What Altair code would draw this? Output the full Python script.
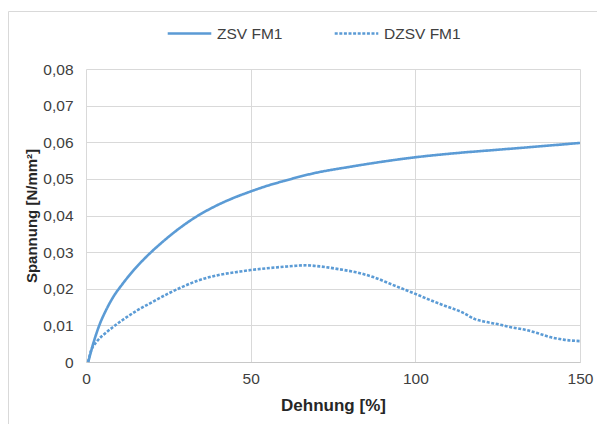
import altair as alt
import pandas as pd

# --- data ---
series_names = ["ZSV FM1", "DZSV FM1"]

zsv_x = [0.7, 1.9, 4.25, 6.0, 8.3, 11.0, 14.6, 18.4, 23.0, 28.5, 33.0, 38.7, 44.0,
         49.8, 55.0, 60.0, 69.0, 80.2, 89.3, 100.0, 112.0, 125.7, 138.0, 150.0]
zsv_y = [0.0, 0.0041, 0.0105, 0.0140, 0.0178, 0.0212, 0.0252, 0.0288, 0.0326, 0.0366,
         0.0394, 0.0423, 0.0445, 0.0465, 0.0481, 0.0494, 0.0515, 0.0533, 0.0546, 0.0559,
         0.0570, 0.0580, 0.0589, 0.0598]

dzsv_x = [0.6, 1.5, 3.2, 5.8, 8.3, 11.0, 15.4, 20.0, 25.0, 29.0, 33.6, 40.0, 46.8, 50.0,
          55.0, 60.0, 64.0, 67.0, 71.0, 77.1, 82.0, 87.2, 93.3, 100.0, 104.0, 108.5, 114.6,
          118.1, 121.7, 125.7, 129.0, 133.8, 137.0, 140.9, 145.0, 150.0]
dzsv_y = [0.0, 0.0030, 0.0055, 0.0078, 0.0096, 0.0114, 0.0140, 0.0163, 0.0187, 0.0204,
          0.0221, 0.0237, 0.0247, 0.0251, 0.0256, 0.0260, 0.0263, 0.0264, 0.0261, 0.0253,
          0.0245, 0.0232, 0.0210, 0.0186, 0.0171, 0.0155, 0.0134, 0.0117, 0.0109, 0.0102,
          0.0095, 0.0087, 0.0079, 0.0068, 0.0061, 0.0057]

x_ticks = [0, 50, 100, 150]
y_ticks = [0, 0.01, 0.02, 0.03, 0.04, 0.05, 0.06, 0.07, 0.08]

rows = []
for name, xs, ys in [(series_names[0], zsv_x, zsv_y), (series_names[1], dzsv_x, dzsv_y)]:
    for i, (xv, yv) in enumerate(zip(xs, ys)):
        rows.append({"series": name, "x": xv, "y": yv, "order": i})
df = pd.DataFrame(rows)

FONT = "Liberation Sans"
BLUE = "#5B9BD5"

legend_props = dict(
    title=None,
    orient="none",
    legendX=80,
    legendY=-59,
    direction="horizontal",
)

lines = alt.Chart(df).mark_line(strokeWidth=2.6, interpolate="monotone").encode(
    x=alt.X("x:Q",
            scale=alt.Scale(domain=[0, 150], nice=False, zero=False),
            axis=alt.Axis(values=x_ticks, title="Dehnung [%]", labelPadding=9,
                          titlePadding=11, domain=True, domainColor="#c8c8c8",
                          ticks=False, grid=True, labelFlush=False)),
    y=alt.Y("y:Q",
            scale=alt.Scale(domain=[0, 0.08], nice=False),
            axis=alt.Axis(values=y_ticks, title="Spannung [N/mm²]", labelPadding=13,
                          titlePadding=3, domain=False, ticks=False, grid=True,
                          labelExpr="datum.value == 0 ? '0' : replace(format(datum.value, '.2f'), '.', ',')")),
    color=alt.Color("series:N",
                    scale=alt.Scale(domain=series_names, range=[BLUE, BLUE]),
                    legend=alt.Legend(**legend_props)),
    strokeDash=alt.StrokeDash("series:N",
                              scale=alt.Scale(domain=series_names, range=[[1, 0], [3, 1.6]]),
                              legend=alt.Legend(**legend_props)),
    order="order:Q",
)

frame_df = pd.DataFrame({"k": [0]})
frame_left = alt.Chart(frame_df).mark_rule(color="#d9d9d9", strokeWidth=1).encode(
    x=alt.value(-77.5), y=alt.value(-57.5), y2=alt.value(430))
frame_top = alt.Chart(frame_df).mark_rule(color="#d9d9d9", strokeWidth=1).encode(
    x=alt.value(-77.5), x2=alt.value(600), y=alt.value(-57.5))

chart = alt.layer(frame_left, frame_top, lines).properties(
    width=494,
    height=293,
    autosize=alt.AutoSizeParams(type="none"),
    padding={"left": 78, "top": 61, "right": 17, "bottom": 62},
    background="white",
).configure_view(stroke=None).configure_axis(
    gridColor="#d9d9d9",
    gridWidth=1,
    labelFont=FONT,
    labelFontSize=15.5,
    labelColor="#404040",
    titleFont=FONT,
    titleFontSize=17,
    titleFontWeight="bold",
    titleColor="#262626",
).configure_axisY(
    titleFontSize=15,
).configure_legend(
    labelFont=FONT,
    labelFontSize=15.5,
    labelColor="#404040",
    symbolType="stroke",
    symbolSize=1900,
    symbolStrokeWidth=2.6,
    columnPadding=46,
    labelOffset=4,
)

chart.save("out.html", embed_options={"renderer": "svg", "actions": False})
